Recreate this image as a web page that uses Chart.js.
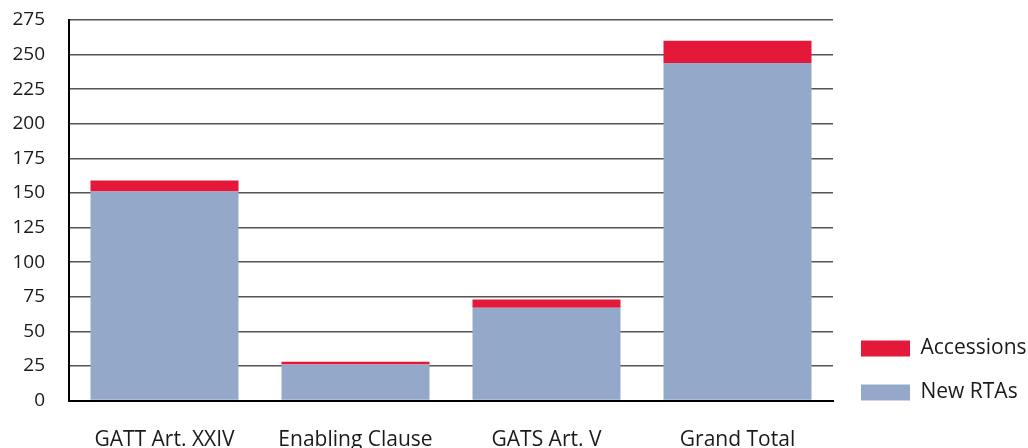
<!DOCTYPE html>
<html>
<head>
<meta charset="utf-8">
<script src="https://cdn.jsdelivr.net/npm/chart.js@4/dist/chart.umd.min.js"></script>
<style>
  html, body { margin: 0; padding: 0; background: #fff; }
  #wrap { width: 1028px; height: 448px; position: relative; }
</style>
</head>
<body>
<div id="wrap"><canvas id="c"></canvas></div>
<script>
const categories = ["GATT Art. XXIV", "Enabling Clause", "GATS Art. V", "Grand Total"];
const newRTAs = [151, 26, 67, 244];
const accessions = [8, 2, 6, 16];
const yTicks = [0, 25, 50, 75, 100, 125, 150, 175, 200, 225, 250, 275];

const FONT = "'Open Sans', sans-serif";

const legendPlace = {
  id: 'legendPlace',
  beforeInit(chart) {
    const lg = chart.legend;
    if (lg) {
      const fit = lg.fit;
      lg.fit = function () { fit.call(this); this.width = 195; };
    }
  },
  beforeDraw(chart) {
    const lg = chart.legend;
    if (lg) {
      lg.bottom = 426;
      lg.left = chart.chartArea.right + 5;
    }
  }
};

new Chart(document.getElementById('c'), {
  type: 'bar',
  data: {
    labels: categories,
    datasets: [
      { label: 'New RTAs', data: newRTAs, backgroundColor: '#94A9CA', borderWidth: 0 },
      { label: 'Accessions', data: accessions, backgroundColor: '#E4193A', borderWidth: 0 }
    ]
  },
  options: {
    responsive: true,
    maintainAspectRatio: false,
    animation: false,
    layout: { padding: { top: 0, bottom: 0, left: 0, right: 0 } },
    datasets: { bar: { categoryPercentage: 0.775, barPercentage: 1.0 } },
    scales: {
      x: {
        stacked: true,
        afterFit(axis) { axis.height = 47.5; },
        grid: { display: false, drawTicks: false },
        border: { display: true, color: '#000', width: 2 },
        ticks: { color: '#1a1a1a', font: { family: FONT, size: 21 }, padding: 27, maxRotation: 0 }
      },
      y: {
        stacked: true,
        min: 0, max: 275,
        afterBuildTicks(axis) { axis.ticks = yTicks.map(v => ({ value: v })); },
        afterFit(axis) { axis.width = 69; axis.paddingTop = 20; axis.paddingBottom = 0; },
        grid: { color: '#555', lineWidth: 1.5, drawTicks: false },
        border: { display: true, color: '#000', width: 2 },
        ticks: { color: '#1a1a1a', font: { family: FONT, size: 19 }, padding: 24 }
      }
    },
    plugins: {
      legend: {
        position: 'right',
        align: 'end',
        reverse: true,
        labels: {
          boxWidth: 49, boxHeight: 16, padding: 23,
          color: '#1a1a1a', font: { family: FONT, size: 21 }
        }
      },
      tooltip: { enabled: false }
    }
  },
  plugins: [legendPlace]
});
</script>
</body>
</html>
